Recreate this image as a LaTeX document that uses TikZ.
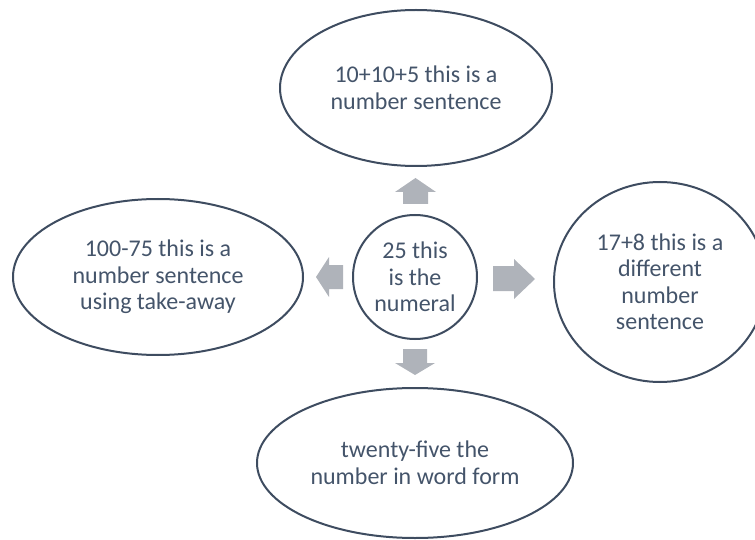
\documentclass[tikz,border=0pt]{standalone}
\usepackage{fontspec}
\setmainfont{Carlito}
\usetikzlibrary{shapes.geometric}
\definecolor{edgec}{HTML}{3E4C60}
\definecolor{txtc}{HTML}{44546A}
\definecolor{arrc}{HTML}{AFB3BA}
\begin{document}
\begin{tikzpicture}[x=1pt,y=-1pt,
  bub/.style={ellipse, draw=edgec, line width=2pt, inner sep=0pt, align=center,
    text=txtc, font=\fontsize{24}{26.5}\selectfont},
  blockarr/.style={fill=arrc, draw=none}]
\useasboundingbox (0,0) rectangle (755,540);
\begin{scope}
\clip (0,0) rectangle (755,540);
\node[bub, minimum width=124pt, minimum height=124pt] (c) at (415,277) {25 this\\is the\\numeral};
\node[bub, minimum width=272pt, minimum height=156pt] (t) at (416,88) {10+10+5 this is a\\number sentence};
\node[bub, minimum width=290pt, minimum height=156pt] (l) at (158,277) {100-75 this is a\\number sentence\\using take-away};
\node[bub, minimum width=212pt, minimum height=200pt] (r) at (660,282) {17+8 this is a\\different\\number\\sentence};
\node[bub, minimum width=316pt, minimum height=150pt] (b) at (415,463) {twenty-five the\\number in word form};
\end{scope}
% block arrows
\fill[blockarr] (415.5,178) -- (436,192) -- (428,192) -- (428,204) -- (403,204) -- (403,192) -- (395,192) -- cycle;
\fill[blockarr] (316,277) -- (329,257) -- (329,265) -- (343,265) -- (343,289) -- (329,289) -- (329,297) -- cycle;
\fill[blockarr] (535,279) -- (514,259) -- (514,266) -- (493,266) -- (493,291) -- (514,291) -- (514,299) -- cycle;
\fill[blockarr] (415,375) -- (435,363) -- (427,363) -- (427,349) -- (403,349) -- (403,363) -- (395,363) -- cycle;
\end{tikzpicture}
\end{document}
